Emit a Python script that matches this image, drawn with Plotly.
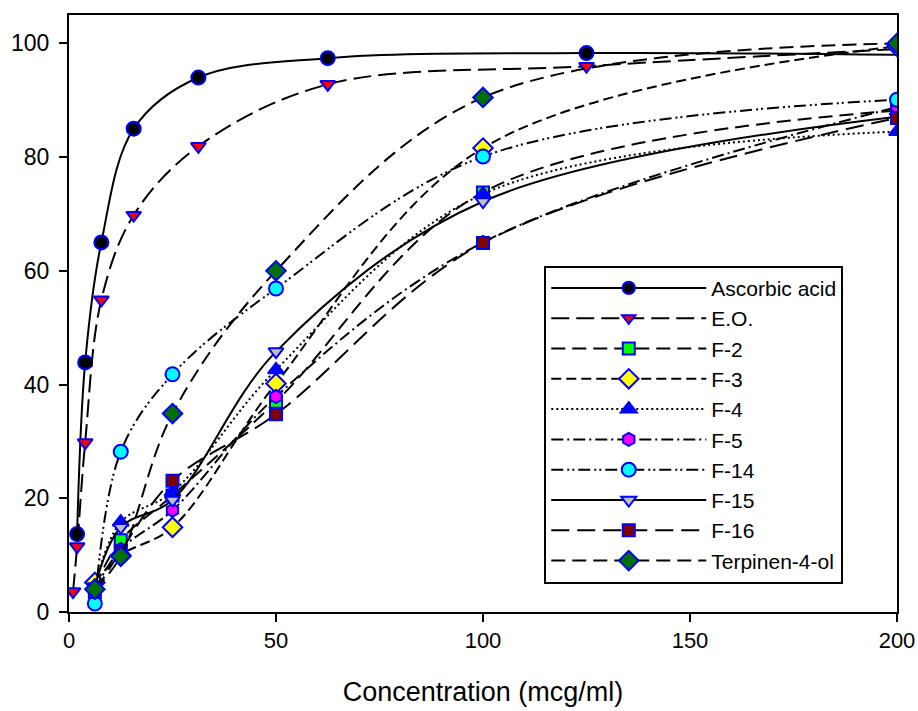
import plotly.graph_objects as go

# ---- data ----
x_fractions = [6.25, 12.5, 25, 50, 100, 200]
x_ascorbic = [1.953, 3.906, 7.8125, 15.625, 31.25, 62.5, 125, 200]
x_eo = [0.977, 1.953, 3.906, 7.8125, 15.625, 31.25, 62.5, 125, 200]

ascorbic = [13.7, 43.9, 65, 85, 94, 97.4, 98.3, 98]
eo = [3.6, 11.5, 29.8, 54.9, 69.8, 81.9, 92.8, 96, 99]
f2 = [4.5, 12.6, 20.5, 37, 73.8, 88.2]
f3 = [5.2, 10, 14.9, 40.2, 81.6, 99.5]
f4 = [4.5, 15.8, 21.1, 42.6, 73.5, 84.5]
f5 = [4, 11, 17.9, 37.9, 65, 88.8]
f14 = [1.5, 28.2, 41.8, 56.9, 80.1, 90.1]
f15 = [4.5, 14.9, 19.7, 45.8, 72.2, 87.1]
f16 = [3.5, 10.7, 23.1, 34.8, 64.9, 86.9]
terpinen = [4, 9.8, 34.9, 60, 90.5, 100]

x_ticks = [0, 50, 100, 150, 200]
y_ticks = [0, 20, 40, 60, 80, 100]

FONT = "Liberation Sans, Arial, sans-serif"
BLUE = "#0000ff"

series = [
    ("Ascorbic acid", x_ascorbic, ascorbic, "circle", "#000000", "solid", 14, [14] * 7 + [0]),
    ("E.O.", x_eo, eo, "triangle-down", "#ff0000", "18px,7px", 13, [13] * 8 + [0]),
    ("F-2", x_fractions, f2, "square", "#00ff00", "14px,7px", 12, None),
    ("F-3", x_fractions, f3, "diamond", "#ffff00", "10px,5px", 15, None),
    ("F-4", x_fractions, f4, "triangle-up", "#0000ff", "2px,3px", 14, None),
    ("F-5", x_fractions, f5, "hexagon", "#ff00ff", "12px,4px,2px,4px", 13, None),
    ("F-14", x_fractions, f14, "circle", "#00ffff", "12px,4px,2px,3px,2px,4px", 14, None),
    ("F-15", x_fractions, f15, "triangle-down", "#c0c0c0", "solid", 13, None),
    ("F-16", x_fractions, f16, "square", "#800000", "18px,8px", 12, None),
    ("Terpinen-4-ol", x_fractions, terpinen, "diamond", "#007000", "14px,7px", 15, None),
]

fig = go.Figure()
for name, xs, ys, sym, col, dash, size, sizes in series:
    fig.add_trace(go.Scatter(
        x=xs, y=ys, name=name, mode="lines+markers",
        line=dict(color="black", width=2, dash=dash, shape="spline", smoothing=1.0),
        marker=dict(symbol=sym, color=col, size=sizes if sizes else size, opacity=1,
                    line=dict(color=BLUE, width=2)),
    ))

fig.update_layout(
    width=918, height=711,
    margin=dict(l=69, r=21, t=15, b=99, autoexpand=False),
    paper_bgcolor="white", plot_bgcolor="white",
    font=dict(family=FONT, size=23, color="black"),
    showlegend=True,
    legend=dict(
        x=0.574, y=0.580, xanchor="left", yanchor="top",
        bordercolor="black", borderwidth=2, bgcolor="white",
        font=dict(size=21), itemwidth=155,
    ),
    xaxis=dict(
        range=[0, 200], tickvals=x_ticks, showgrid=False, zeroline=False,
        showline=True, linecolor="black", linewidth=2, mirror=True,
        ticks="outside", ticklen=8, tickwidth=2, tickcolor="black",
        tickfont=dict(size=22),
        automargin=False,
        title=dict(text="Concentration (mcg/ml)", font=dict(size=27), standoff=30),
    ),
    yaxis=dict(
        range=[0, 105], tickvals=y_ticks, showgrid=False, zeroline=False,
        showline=True, linecolor="black", linewidth=2, mirror=True,
        ticks="outside", ticklen=8, tickwidth=2, tickcolor="black",
        automargin=False, ticklabelstandoff=5,
    ),
)

fig.write_html(
    "out.html",
    config={"displayModeBar": False},
    post_script="document.body.style.margin='0';document.body.style.overflow='hidden';",
)
